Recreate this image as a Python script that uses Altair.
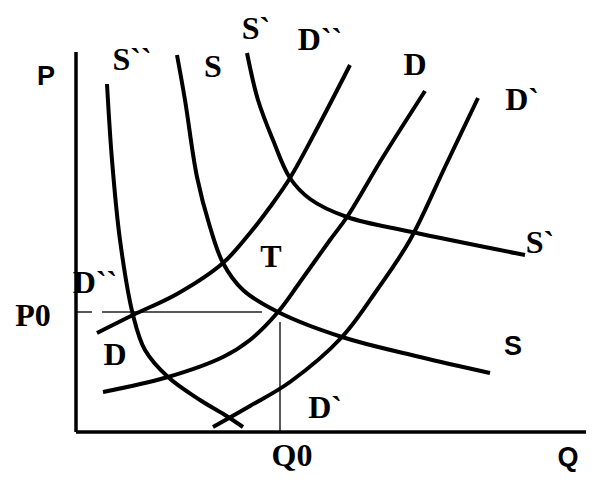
import altair as alt
import pandas as pd

# ---- curve points (Q, P) ----
s2_q = [3.1, 3.6, 4.4, 5.7, 6.9, 9.2, 12.4, 14.9, 16.7]
s2_p = [34.8, 27.2, 19.2, 11.7, 8.2, 5.5, 3.2, 1.7, 0.5]

s_q = [10.1, 10.9, 12.1, 13.4, 14.7, 16.7, 20.2, 26.6, 34.4, 41.4]
s_p = [37.7, 33.2, 25.5, 20.5, 16.9, 14.2, 12.0, 9.5, 7.5, 5.9]

s1_q = [17.1, 18.2, 19.7, 21.4, 23.4, 27.1, 33.6, 44.9]
s1_p = [37.9, 33.2, 29.2, 25.4, 23.3, 21.5, 20.0, 17.7]

d2_q = [2.1, 5.7, 10.1, 14.7, 17.4, 19.4, 21.4, 24.4, 27.4]
d2_p = [9.9, 11.7, 13.8, 16.9, 19.9, 22.5, 25.4, 30.9, 36.7]

d_q = [2.7, 9.2, 14.7, 17.4, 20.2, 22.4, 25.4, 27.1, 30.7, 34.9]
d_p = [4.0, 5.5, 7.5, 9.2, 12.0, 15.0, 19.2, 21.5, 27.5, 34.1]

d1_q = [13.7, 17.4, 21.4, 26.6, 30.1, 33.4, 36.9, 40.2]
d1_p = [0.5, 2.6, 5.0, 9.5, 14.2, 19.2, 26.5, 33.4]

curve_names = ["S``", "S", "S`", "D``", "D", "D`"]
curve_qs = [s2_q, s_q, s1_q, d2_q, d_q, d1_q]
curve_ps = [s2_p, s_p, s1_p, d2_p, d_p, d1_p]

# equilibrium guides (P0 line and Q0 line)
p0 = 12.0
q0 = 20.4
p0_seg_q1 = [0.1, 2.6]
p0_seg_q2 = [1.6, 18.6]
q0_top = 11.0

# ---- labels ----
serif_labels = ["S``", "S", "S`", "D``", "D", "D`", "S`", "T", "D``", "D", "D`", "P0", "Q0"]
serif_q = [5.6, 13.7, 18.0, 24.4, 33.9, 44.6, 46.4, 19.5, 1.9, 3.9, 24.9, -4.3, 21.6]
serif_p = [37.2, 36.5, 40.3, 39.2, 36.7, 33.2, 18.9, 17.5, 14.9, 7.7, 2.4, 11.6, -2.4]

sans_labels = ["P", "Q", "S"]
sans_q = [-3.0, 49.2, 43.7]
sans_p = [35.5, -2.6, 8.5]

# axis extents
q_max_axis = 51.0
p_max_axis = 38.0

rows = []
for k, (name, qs, ps) in enumerate(zip(curve_names, curve_qs, curve_ps)):
    for i, (q, p) in enumerate(zip(qs, ps)):
        rows.append({"cid": k, "name": name, "q": q, "p": p, "i": i})
curves_df = pd.DataFrame(rows)

xs = alt.Scale(domain=[-6.8, 51.0], nice=False, zero=False)
ys = alt.Scale(domain=[-4.3, 42.4], nice=False, zero=False)

lines = alt.Chart(curves_df).mark_line(
    color="black", strokeWidth=4, strokeCap="butt", interpolate="catmull-rom"
).encode(
    x=alt.X("q:Q", scale=xs, axis=None),
    y=alt.Y("p:Q", scale=ys, axis=None),
    detail="cid:N",
    order="i:Q",
)

axes_df = pd.DataFrame({
    "x1": [0.0, 0.0], "x2": [0.0, q_max_axis],
    "y1": [0.0, 0.0], "y2": [p_max_axis, 0.0],
})
axes = alt.Chart(axes_df).mark_rule(color="black", strokeWidth=3.5).encode(
    x=alt.X("x1:Q", scale=xs, axis=None), x2="x2:Q",
    y=alt.Y("y1:Q", scale=ys, axis=None), y2="y2:Q",
)

guide_df = pd.DataFrame({
    "x1": p0_seg_q1 + [q0], "x2": p0_seg_q2 + [q0],
    "y1": [p0, p0, 0.0], "y2": [p0, p0, q0_top],
})
guides = alt.Chart(guide_df).mark_rule(color="#222222", strokeWidth=1.5).encode(
    x=alt.X("x1:Q", scale=xs, axis=None), x2="x2:Q",
    y=alt.Y("y1:Q", scale=ys, axis=None), y2="y2:Q",
)

serif_df = pd.DataFrame({"t": serif_labels, "q": serif_q, "p": serif_p})
serif_text = alt.Chart(serif_df).mark_text(
    font="Liberation Serif", fontWeight="bold", fontSize=32, color="black",
    align="center", baseline="middle",
).encode(
    x=alt.X("q:Q", scale=xs, axis=None),
    y=alt.Y("p:Q", scale=ys, axis=None),
    text="t:N",
)

sans_df = pd.DataFrame({"t": sans_labels, "q": sans_q, "p": sans_p})
sans_text = alt.Chart(sans_df).mark_text(
    font="Liberation Sans", fontWeight="bold", fontSize=27, color="black",
    align="center", baseline="middle",
).encode(
    x=alt.X("q:Q", scale=xs, axis=None),
    y=alt.Y("p:Q", scale=ys, axis=None),
    text="t:N",
)

chart = alt.layer(guides, lines, axes, serif_text, sans_text).properties(
    width=578, height=467,
    autosize=alt.AutoSizeParams(type="none"),
    padding=0,
).configure_view(stroke=None)

chart.save("out.html", embed_options={"renderer": "svg", "actions": False})
